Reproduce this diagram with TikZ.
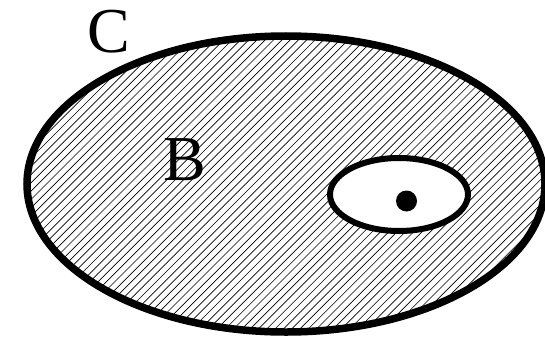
\documentclass[tikz,border=0pt]{standalone}
\usepackage{fontspec}
\setmainfont{Liberation Serif}
\begin{document}
\begin{tikzpicture}[x=1pt,y=-1pt,
  outline/.style={line width=7.5pt},
  hatch/.style={line width=0.65pt},
  lbl/.style={inner sep=0pt,font=\fontsize{64}{64}\selectfont}]
\useasboundingbox (0,0) rectangle (545,337);
\begin{scope}
  \clip (286,184) ellipse [x radius=259, y radius=148];
  \foreach \i in {-400,-391.7,...,600} \draw[hatch] (\i,340) -- (\i+340,0);
\end{scope}
\fill[white] (399,194.5) ellipse [x radius=69, y radius=36.5];
\draw[outline] (286,184) ellipse [x radius=259, y radius=148];
\draw[line width=6pt] (399,194.5) ellipse [x radius=69, y radius=36.5];
\fill (406.5,201) circle [radius=10.5];
\node[lbl] (C) at (109,32) {C};
\node[lbl] (B) at (185,160) {B};
\end{tikzpicture}
\end{document}
